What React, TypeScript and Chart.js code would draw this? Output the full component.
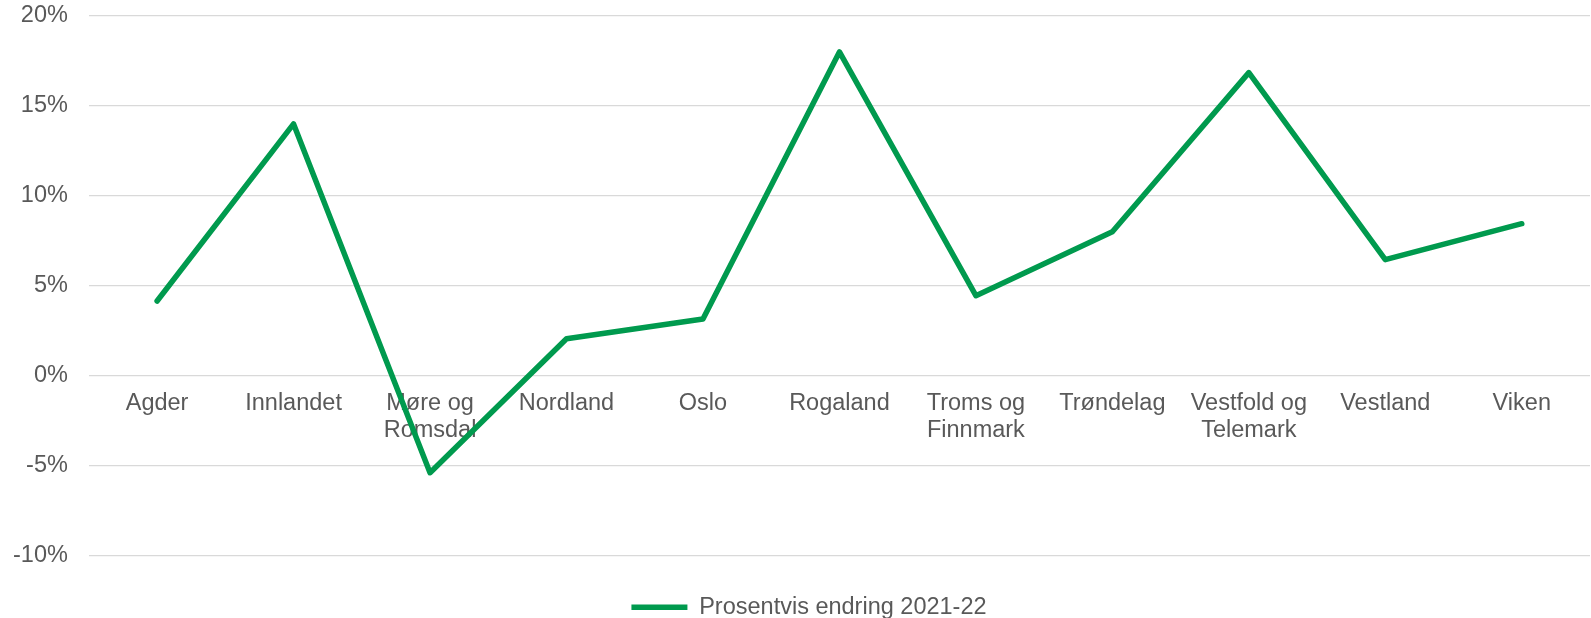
import React, { useEffect, useRef } from "react";
import { Chart, registerables } from "chart.js";

Chart.register(...registerables);

const categories: (string | string[])[] = [
  "Agder",
  "Innlandet",
  ["Møre og", "Romsdal"],
  "Nordland",
  "Oslo",
  "Rogaland",
  ["Troms og", "Finnmark"],
  "Trøndelag",
  ["Vestfold og", "Telemark"],
  "Vestland",
  "Viken",
];

const seriesLabel = "Prosentvis endring 2021-22";
const seriesValues = [4.15, 14.0, -5.4, 2.05, 3.15, 18.0, 4.45, 8.0, 16.85, 6.45, 8.45];

const yMin = -10;
const yMax = 20;
const yStep = 5;

const FONT = "'Liberation Sans', Arial, sans-serif";
const TEXT = "#595959";
const GREEN = "#009A4E";
const GRID = "#d9d9d9";

const legendShift = {
  id: "legendShift",
  afterLayout(chart: any) {
    if (chart.legend) {
      chart.legend.left += 18;
      chart.legend.right += 18;
    }
  },
};

export default function App() {
  const ref = useRef<HTMLCanvasElement | null>(null);

  useEffect(() => {
    document.body.style.margin = "0";
    if (!ref.current) return;
    const chart = new Chart(ref.current, {
      type: "line",
      data: {
        labels: categories,
        datasets: [
          {
            label: seriesLabel,
            data: seriesValues,
            borderColor: GREEN,
            backgroundColor: GREEN,
            borderWidth: 5.5,
            tension: 0,
            pointRadius: 0,
            pointHoverRadius: 0,
            borderCapStyle: "round",
            borderJoinStyle: "round",
            fill: false,
          },
        ],
      },
      options: {
        animation: false,
        responsive: true,
        maintainAspectRatio: false,
        layout: { padding: { left: -8, right: 1, top: 16, bottom: -11 } },
        scales: {
          x: {
            type: "category",
            offset: true,
            position: { y: 0 } as any,
            grid: { display: false, offset: true },
            border: { display: false },
            ticks: {
              autoSkip: false,
              maxRotation: 0,
              minRotation: 0,
              padding: 6,
              color: TEXT,
              font: { family: FONT, size: 23.5, lineHeight: 1.17 },
            },
          },
          x2: {
            type: "category",
            offset: true,
            position: "bottom",
            grid: { display: false },
            border: { display: false },
            ticks: { display: false },
            afterFit: (s: any) => {
              s.height = 36;
            },
          } as any,
          y: {
            min: yMin,
            max: yMax,
            grid: { color: GRID, lineWidth: 1.2, drawTicks: false },
            border: { display: false },
            ticks: {
              stepSize: yStep,
              padding: 21,
              color: TEXT,
              font: { family: FONT, size: 23.5 },
              callback: (v: any) => `${v}%`,
            },
            afterFit: (s: any) => {
              s.paddingTop = 0;
              s.paddingBottom = 0;
            },
          },
        },
        plugins: {
          legend: {
            display: true,
            position: "bottom",
            labels: {
              usePointStyle: true,
              pointStyle: "line",
              pointStyleWidth: 56,
              padding: 4,
              color: TEXT,
              font: { family: FONT, size: 23.5 },
            },
          },
          tooltip: { enabled: false },
        },
      },
      plugins: [legendShift],
    });
    return () => chart.destroy();
  }, []);

  return (
    <div style={{ position: "absolute", left: 0, top: 0, width: 1591, height: 618 }}>
      <canvas ref={ref} />
    </div>
  );
}
